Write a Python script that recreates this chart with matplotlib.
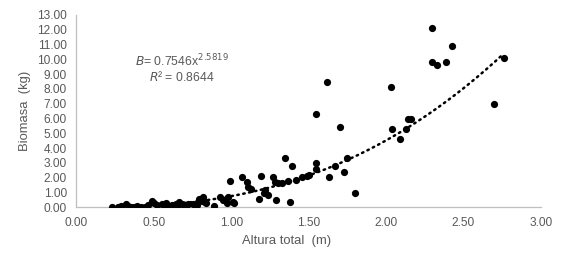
import matplotlib.pyplot as plt
import numpy as np

plt.rcParams['font.family'] = ['Liberation Sans', 'DejaVu Sans']

# datos
altura = [2.30, 2.43, 2.30, 2.33, 2.39, 2.76, 2.70, 2.14, 2.16,
          1.62, 2.03, 1.55, 1.70, 2.04, 2.13, 2.09,
          1.55, 1.55, 1.50, 1.49, 1.67, 1.75, 1.63, 1.73, 1.80, 1.46,
          1.35, 1.39,
          0.99, 1.07, 1.19, 1.27, 1.10, 1.11, 1.13, 1.28, 1.30, 1.33, 1.37, 1.42,
          1.21, 1.24, 1.18, 1.29, 1.38, 1.22,
          0.93, 0.98, 0.97, 1.02, 0.89, 1.01, 0.83, 0.81, 0.84, 0.95,
          0.23, 0.27, 0.29, 0.32, 0.35, 0.39, 0.42, 0.46, 0.49, 0.50,
          0.52, 0.55, 0.58, 0.60, 0.62, 0.64, 0.66, 0.68, 0.70, 0.72,
          0.75, 0.77, 0.79, 0.80, 0.82, 0.44, 0.33, 0.37, 0.57, 0.65,
          0.71, 0.78]
biomasa = [12.1, 10.9, 9.8, 9.6, 9.8, 10.1, 7.0, 6.0, 6.0,
           8.45, 8.1, 6.3, 5.4, 5.3, 5.3, 4.6,
           3.0, 2.6, 2.2, 2.15, 2.8, 3.3, 2.07, 2.37, 0.95, 2.03,
           3.3, 2.8,
           1.8, 2.05, 2.1, 2.03, 1.7, 1.4, 1.25, 1.7, 1.65, 1.65, 1.8, 1.85,
           1.0, 0.83, 0.56, 0.5, 0.38, 1.17,
           0.68, 0.68, 0.31, 0.31, 0.11, 0.38, 0.38, 0.45, 0.27, 0.49,
           0.0, 0.0, 0.08, 0.2, 0.05, 0.1, 0.02, 0.15, 0.4, 0.3,
           0.15, 0.2, 0.28, 0.1, 0.15, 0.25, 0.38, 0.2, 0.1, 0.25,
           0.2, 0.25, 0.55, 0.5, 0.7, 0.05, 0.1, 0.0, 0.05, 0.08,
           0.12, 0.15]

coef_a = 0.7546
coef_b = 2.5819
r2 = 0.8644

gris = '#595959'

fig = plt.figure(figsize=(5.67, 2.65), dpi=100)
ax = fig.add_axes([0.1349, 0.2177, 0.8187, 0.7257])

ax.scatter(altura, biomasa, s=27, color='black', zorder=3, linewidths=0)

# linea de tendencia potencial
xt = np.linspace(min(altura), max(altura), 200)
ax.plot(xt, coef_a * xt ** coef_b, color='black', lw=1.8,
        linestyle=(0, (0.6, 1.8)), dash_capstyle='round', zorder=2)

ax.text(0.227, 0.724, r'$B$= 0.7546x$^{2.5819}$' + '\n' + r'$R$² = 0.8644',
        transform=ax.transAxes, ha='center', va='center', fontsize=8.8,
        color=gris, linespacing=1.05, multialignment='center')

ax.set_xlim(0, 3)
ax.set_ylim(0, 13)
ax.set_xticks(np.arange(0, 3.01, 0.5))
ax.set_yticks(np.arange(0, 13.01, 1))
ax.set_xticklabels(['%.2f' % v for v in np.arange(0, 3.01, 0.5)])
ax.set_yticklabels(['%.2f' % v for v in np.arange(0, 13.01, 1)])
ax.tick_params(length=0, labelsize=8.6, labelcolor=gris, pad=7)

for s in ['top', 'right']:
    ax.spines[s].set_visible(False)
for s in ['left', 'bottom']:
    ax.spines[s].set_color('#bfbfbf')
    ax.spines[s].set_linewidth(0.9)

ax.set_xlabel('Altura total  (m)', fontsize=9.4, color=gris)
ax.set_ylabel('Biomasa  (kg)', fontsize=9.4, color=gris)
ax.xaxis.set_label_coords(0.453, -0.144)
ax.yaxis.set_label_coords(-0.098, 0.5)

plt.savefig('out.png', dpi=100)
plt.close('all')
